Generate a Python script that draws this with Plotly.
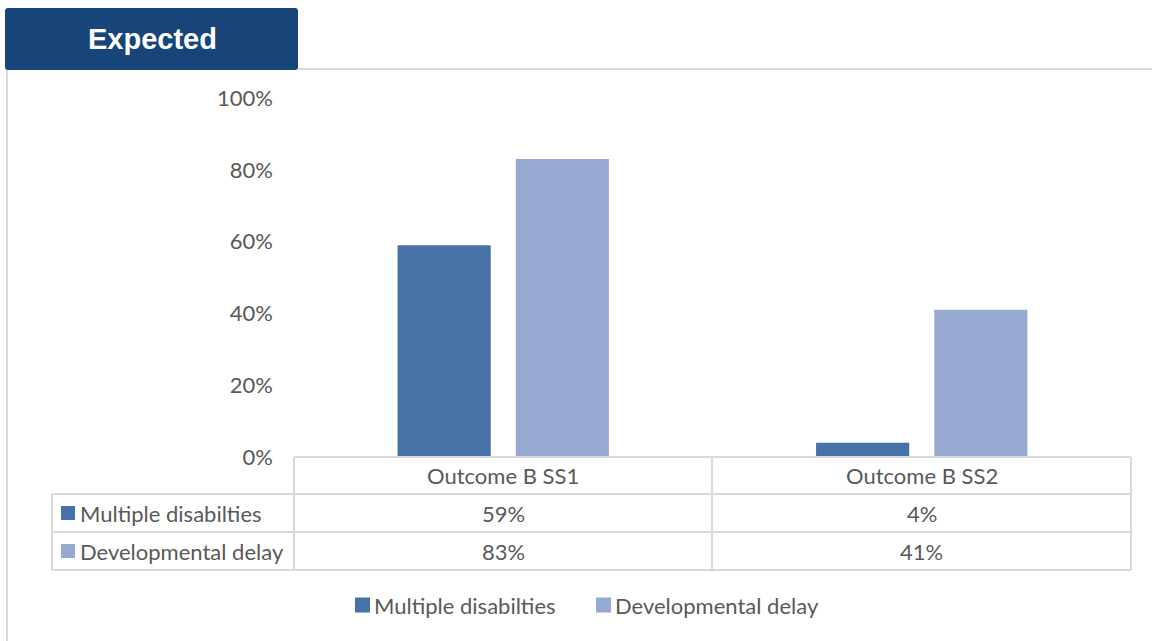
import plotly.graph_objects as go

categories = ["Outcome B SS1", "Outcome B SS2"]
series_names = ["Multiple disabilties", "Developmental delay"]
multiple_disabilities = [59, 4]
developmental_delay = [83, 41]
y_ticks = [0, 20, 40, 60, 80, 100]
y_tick_labels = ["0%", "20%", "40%", "60%", "80%", "100%"]
title_text = "Expected"

W, H = 1152, 641
colors = ["#4672A8", "#95A9D1"]
grid = "#D9D9D9"
txt = "#595959"
FONT = "Lato"
FS = 22

def px(x):
    return x / W

def py(y):
    return 1 - y / H

fig = go.Figure()
for name, vals, c in zip(series_names, [multiple_disabilities, developmental_delay], colors):
    fig.add_trace(go.Bar(x=categories, y=vals, name=name, showlegend=False,
                         marker=dict(color=c, line=dict(width=0))))

x0, x1 = 294, 1131
y_bottom, y_top = 457, 98

shapes = []
annotations = []

# header tab (slightly rounded corners)
r = 3
hx0, hx1, hy0, hy1 = 5, 298, 8, 70
path = (f"M {px(hx0 + r)},{py(hy0)} L {px(hx1 - r)},{py(hy0)} Q {px(hx1)},{py(hy0)} {px(hx1)},{py(hy0 + r)} "
        f"L {px(hx1)},{py(hy1 - r)} Q {px(hx1)},{py(hy1)} {px(hx1 - r)},{py(hy1)} "
        f"L {px(hx0 + r)},{py(hy1)} Q {px(hx0)},{py(hy1)} {px(hx0)},{py(hy1 - r)} "
        f"L {px(hx0)},{py(hy0 + r)} Q {px(hx0)},{py(hy0)} {px(hx0 + r)},{py(hy0)} Z")
shapes.append(dict(type="path", xref="paper", yref="paper", path=path,
                   fillcolor="#17457A", line=dict(width=0), layer="above"))
annotations.append(dict(text="<b>" + title_text + "</b>", xref="paper", yref="paper", x=px(152), y=py(39),
                        showarrow=False, font=dict(family="Liberation Sans", size=29, color="white"),
                        xanchor="center", yanchor="middle"))
# frame lines
shapes.append(dict(type="line", xref="paper", yref="paper", x0=px(298), x1=1, y0=py(69), y1=py(69),
                   line=dict(color=grid, width=2)))
shapes.append(dict(type="line", xref="paper", yref="paper", x0=px(7), x1=px(7), y0=py(70), y1=0,
                   line=dict(color=grid, width=2)))

# data table
tl = 52
mid = 712
rows = [457, 494, 532, 570]
tcol = dict(color=grid, width=2)
def hline(y, xa, xb):
    shapes.append(dict(type="line", xref="paper", yref="paper", x0=px(xa), x1=px(xb), y0=py(y), y1=py(y), line=tcol))
def vline(x, ya, yb):
    shapes.append(dict(type="line", xref="paper", yref="paper", x0=px(x), x1=px(x), y0=py(ya), y1=py(yb), line=tcol))

hline(rows[0], x0, x1)
for rr in rows[1:]:
    hline(rr, tl, x1)
vline(x0, rows[0], rows[3])
vline(mid, rows[0], rows[3])
vline(x1, rows[0], rows[3])
vline(tl, rows[1], rows[3])

for ci, cat in enumerate(categories):
    annotations.append(dict(text=cat, xref="x", yref="paper", x=cat, y=py((rows[0] + rows[1]) / 2),
                            showarrow=False, font=dict(family=FONT, size=FS, color=txt), yanchor="middle"))
all_vals = [multiple_disabilities, developmental_delay]
for ri, (name, vals, c) in enumerate(zip(series_names, all_vals, colors)):
    yc = (rows[ri + 1] + rows[ri + 2]) / 2
    shapes.append(dict(type="rect", xref="paper", yref="paper", x0=px(61), x1=px(75), y0=py(yc + 7), y1=py(yc - 7),
                       fillcolor=c, line=dict(width=0)))
    annotations.append(dict(text=name, xref="paper", yref="paper", x=px(78), y=py(yc), xanchor="left",
                            showarrow=False, font=dict(family=FONT, size=FS, color=txt), yanchor="middle"))
    for cat, v in zip(categories, vals):
        annotations.append(dict(text=f"{v}%", xref="x", yref="paper", x=cat, y=py(yc),
                                showarrow=False, font=dict(family=FONT, size=FS, color=txt), yanchor="middle"))

# bottom legend (manual)
leg_marker_x = [355, 596]
leg_y = 605
for name, c, mx in zip(series_names, colors, leg_marker_x):
    shapes.append(dict(type="rect", xref="paper", yref="paper", x0=px(mx), x1=px(mx + 15),
                       y0=py(leg_y + 7.5), y1=py(leg_y - 7.5), fillcolor=c, line=dict(width=0)))
    annotations.append(dict(text=name, xref="paper", yref="paper", x=px(mx + 17), y=py(leg_y), xanchor="left",
                            yanchor="middle", showarrow=False, font=dict(family=FONT, size=FS, color=txt)))

fig.update_layout(
    width=W, height=H, margin=dict(l=0, r=0, t=0, b=0, autoexpand=False),
    paper_bgcolor="white", plot_bgcolor="white",
    barmode="group", bargap=0.435, bargroupgap=0.212,
    showlegend=False,
    xaxis=dict(domain=[px(x0), px(x1)], showticklabels=False, showgrid=False, zeroline=False,
               showline=False, ticks=""),
    yaxis=dict(domain=[py(y_bottom), py(y_top)], range=[0, 100], tickvals=y_ticks, ticktext=y_tick_labels,
               showgrid=False, zeroline=False, showline=False, ticks="", ticklabelstandoff=20,
               tickfont=dict(family=FONT, size=FS, color=txt)),
    shapes=shapes, annotations=annotations,
)
fig.write_html("out.html")
